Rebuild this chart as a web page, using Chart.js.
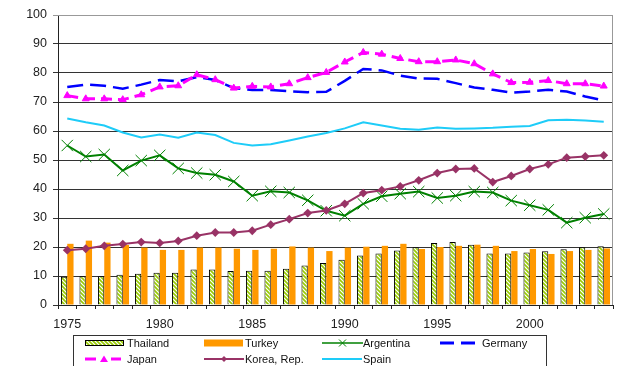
<!DOCTYPE html>
<html>
<head>
<meta charset="utf-8">
<script src="https://cdn.jsdelivr.net/npm/chart.js@4/dist/chart.umd.min.js"></script>
<style>
  html, body { margin: 0; padding: 0; background: #fff; }
  #wrap { position: relative; width: 622px; height: 366px; overflow: hidden; }
  #legend {
    position: absolute; left: 73px; top: 335px; width: 474px; height: 40px;
    border: 1px solid #333; box-sizing: border-box;
    font: 11px "Liberation Sans", Arial, sans-serif; color: #111;
  }
  .sw { position: absolute; }
  .lt { position: absolute; line-height: 14px; white-space: nowrap; }
</style>
</head>
<body>
<div id="wrap">
  <canvas id="c" width="622" height="366"></canvas>
  <div id="legend"></div>
</div>
<script>
// Years on the category axis
const years = [1975,1976,1977,1978,1979,1980,1981,1982,1983,1984,1985,1986,1987,1988,1989,
               1990,1991,1992,1993,1994,1995,1996,1997,1998,1999,2000,2001,2002,2003,2004];

// Series values (percent)
const thailand  = [9.7,9.9,9.9,10.4,10.8,11.1,11.1,12.2,12.2,11.7,11.8,11.8,12.5,13.6,14.5,
                   15.6,17.1,17.8,18.8,19.9,21.4,21.7,20.8,17.8,17.8,18.1,18.5,19.2,19.9,20.3];
const turkey    = [21.1,22.2,21.5,20.7,19.8,19.0,19.0,19.8,19.8,19.4,19.0,19.4,20.2,19.8,18.6,
                   19.8,20.1,20.4,21.1,19.3,20.0,20.4,20.8,20.4,18.6,19.3,17.6,18.6,19.0,19.5];
const argentina = [55.0,51.2,51.9,46.4,49.8,51.6,47.1,45.5,44.9,42.6,37.7,39.2,38.8,36.1,32.5,
                   30.8,34.9,37.5,38.4,39.1,36.9,37.7,39.1,38.8,36.0,34.4,32.8,28.4,30.1,31.4];
const germany   = [75.2,76.0,75.6,74.6,76.0,77.6,77.1,78.6,77.6,74.8,74.1,74.1,73.7,73.4,73.5,
                   77.3,81.4,80.9,79.1,78.1,78.0,76.5,75.0,74.2,73.2,73.6,74.2,73.6,71.9,70.5];
const japan     = [72.2,71.1,71.1,70.8,72.5,75.2,75.6,79.4,77.7,74.8,75.4,75.2,76.3,78.4,80.2,
                   83.8,87.1,86.5,85.0,83.9,83.9,84.5,83.2,79.7,76.7,76.8,77.4,76.3,76.3,75.5];
const korea     = [18.9,19.4,20.4,21.0,21.7,21.4,22.1,23.9,25.0,25.0,25.6,27.7,29.6,31.7,32.6,
                   34.9,38.6,39.6,40.9,43.0,45.5,46.9,47.1,42.4,44.5,46.9,48.5,50.8,51.2,51.6];
const spain     = [64.3,63.0,61.9,59.5,57.8,58.8,57.7,59.5,58.6,55.9,55.0,55.4,56.7,58.1,59.3,
                   60.9,63.0,61.9,60.8,60.4,61.2,60.8,60.9,61.1,61.5,61.7,63.7,63.9,63.6,63.2];

// Y axis tick values
const yTicks = [0,10,20,30,40,50,60,70,80,90,100];

const FONT = '"Liberation Sans", Arial, sans-serif';
const C = {
  hatch: '#99CC00', turkey: '#FF9900', argentina: '#008000', germany: '#0000FF',
  japan: '#FF00FF', korea: '#993366', spain: '#1ECCF8'
};

// Diagonal green hatching used for the Thailand bars
function hatchPattern() {
  const p = document.createElement('canvas');
  p.width = 4; p.height = 4;
  const g = p.getContext('2d');
  g.fillStyle = '#fff'; g.fillRect(0, 0, 4, 4);
  g.strokeStyle = C.hatch; g.lineWidth = 1.6;
  g.beginPath();
  g.moveTo(-1, -1); g.lineTo(5, 5);
  g.moveTo(-1, 3); g.lineTo(1, 5);
  g.moveTo(3, -1); g.lineTo(5, 1);
  g.stroke();
  return document.getElementById('c').getContext('2d').createPattern(p, 'repeat');
}

// Gray frame on the top and right of the plot area
const frame = {
  id: 'frame',
  beforeDatasetsDraw(chart) {
    const { ctx, chartArea: a } = chart;
    ctx.save();
    ctx.strokeStyle = '#999';
    ctx.lineWidth = 1;
    ctx.beginPath();
    ctx.moveTo(a.left, a.top + 0.5);
    ctx.lineTo(a.right - 0.5, a.top + 0.5);
    ctx.lineTo(a.right - 0.5, a.bottom);
    ctx.stroke();
    ctx.restore();
  }
};

const lineBase = { type: 'line', order: 0, fill: false, tension: 0, pointHoverRadius: 0 };

new Chart(document.getElementById('c'), {
  type: 'bar',
  data: {
    labels: years,
    datasets: [
      Object.assign({}, lineBase, { label: 'Korea, Rep.', data: korea, borderColor: C.korea,
        borderWidth: 2, pointStyle: 'rectRot', pointRadius: 3,
        pointBackgroundColor: C.korea, pointBorderColor: C.korea }),
      Object.assign({}, lineBase, { label: 'Argentina', data: argentina, borderColor: C.argentina,
        borderWidth: 2, pointStyle: 'crossRot', pointRadius: 8, pointBorderWidth: 1,
        pointBorderColor: C.argentina }),
      Object.assign({}, lineBase, { label: 'Spain', data: spain, borderColor: C.spain,
        borderWidth: 2, pointRadius: 0 }),
      Object.assign({}, lineBase, { label: 'Japan', data: japan, borderColor: C.japan,
        borderWidth: 3, borderDash: [11, 6], borderCapStyle: 'butt', pointStyle: 'triangle',
        pointRadius: 4, pointBorderWidth: 1,
        pointBackgroundColor: C.japan, pointBorderColor: C.japan }),
      Object.assign({}, lineBase, { label: 'Germany', data: germany, borderColor: C.germany,
        borderWidth: 2.5, borderDash: [16, 7], pointRadius: 0 }),
      { label: 'Thailand', data: thailand, order: 1, backgroundColor: hatchPattern(),
        borderColor: '#000', borderWidth: 1, categoryPercentage: 0.68, barPercentage: 1.0 },
      { label: 'Turkey', data: turkey, order: 1, backgroundColor: C.turkey,
        borderWidth: 0, categoryPercentage: 0.68, barPercentage: 1.0 }
    ]
  },
  options: {
    responsive: false,
    animation: false,
    events: [],
    layout: { padding: { left: 0, top: 15, right: 3, bottom: 36 } },
    plugins: { legend: { display: false }, tooltip: { enabled: false } },
    scales: {
      x: {
        offset: true,
        grid: { offset: true, drawOnChartArea: false, drawTicks: true, tickLength: 4,
                color: '#222', lineWidth: 1 },
        border: { color: '#222', width: 1 },
        ticks: {
          autoSkip: false, maxRotation: 0, padding: 8, color: '#222',
          font: { family: FONT, size: 12.5 },
          callback: (v, i) => (years[i] % 5 === 0 ? String(years[i]) : '')
        },
        afterFit: s => { s.height = 25; }
      },
      y: {
        min: 0, max: 100,
        afterBuildTicks: s => { s.ticks = yTicks.map(v => ({ value: v })); },
        grid: { color: ctx => (ctx.tick && ctx.tick.value === 100 ? '#999' : '#333'),
                lineWidth: 1, tickLength: 5 },
        border: { color: '#222', width: 1 },
        ticks: { padding: 6, color: '#222', font: { family: FONT, size: 12.5 } },
        afterFit: s => { s.width = 58; }
      }
    }
  },
  plugins: [frame]
});

// Legend laid out in four columns below the chart
const legendItems = [
  { name: 'Thailand',    row: 0, sx: 11,    tx: 53,  sw: 'thai' },
  { name: 'Turkey',      row: 0, sx: 129.5, tx: 171, sw: 'turkey' },
  { name: 'Argentina',   row: 0, sx: 247.5, tx: 289, sw: 'arg' },
  { name: 'Germany',     row: 0, sx: 366,   tx: 408, sw: 'ger' },
  { name: 'Japan',       row: 1, sx: 11,    tx: 53,  sw: 'jap' },
  { name: 'Korea, Rep.', row: 1, sx: 129.5, tx: 171, sw: 'kor' },
  { name: 'Spain',       row: 1, sx: 247.5, tx: 289, sw: 'spa' }
];
const swatches = {
  thai: `<defs><pattern id="h" width="4" height="4" patternUnits="userSpaceOnUse">
           <rect width="4" height="4" fill="#fff"/>
           <path d="M-1,-1 L5,5 M-1,3 L1,5 M3,-1 L5,1" stroke="${C.hatch}" stroke-width="1.6"/></pattern></defs>
         <rect x="0.5" y="3.5" width="38" height="5" fill="url(#h)" stroke="#000" stroke-width="1"/>`,
  turkey: `<rect x="0" y="2.5" width="39" height="7" fill="${C.turkey}"/>`,
  arg: `<line x1="0" y1="6" x2="41" y2="6" stroke="${C.argentina}" stroke-width="1.5"/>
        <path d="M17,2.5 L24,9.5 M24,2.5 L17,9.5" stroke="${C.argentina}" stroke-width="1"/>`,
  ger: `<line x1="0" y1="6" x2="14" y2="6" stroke="${C.germany}" stroke-width="3"/>
        <line x1="21" y1="6" x2="35" y2="6" stroke="${C.germany}" stroke-width="3"/>`,
  jap: `<line x1="0" y1="6" x2="11" y2="6" stroke="${C.japan}" stroke-width="3"/>
        <line x1="26" y1="6" x2="36" y2="6" stroke="${C.japan}" stroke-width="3"/>
        <path d="M19,2.5 L23,9 L15,9 Z" fill="${C.japan}"/>`,
  kor: `<line x1="0" y1="6" x2="40" y2="6" stroke="${C.korea}" stroke-width="2"/>
        <path d="M20,3 L23,6 L20,9 L17,6 Z" fill="${C.korea}"/>`,
  spa: `<line x1="0" y1="6" x2="40" y2="6" stroke="${C.spain}" stroke-width="2"/>`
};
const leg = document.getElementById('legend');
legendItems.forEach(it => {
  const top = it.row === 0 ? 0 : 16;
  const s = document.createElement('div');
  s.className = 'sw';
  s.style.left = it.sx + 'px';
  s.style.top = (top + 0.5) + 'px';
  s.innerHTML = `<svg width="42" height="12" viewBox="0 0 42 12">${swatches[it.sw]}</svg>`;
  leg.appendChild(s);
  const t = document.createElement('div');
  t.className = 'lt';
  t.style.left = it.tx + 'px';
  t.style.top = (top - 0.5) + 'px';
  t.textContent = it.name;
  leg.appendChild(t);
});
</script>
</body>
</html>
